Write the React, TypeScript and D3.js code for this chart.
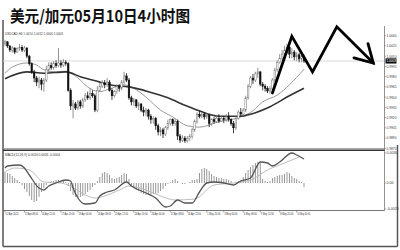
import React from "react";
import * as d3 from "d3";

const W = 400;
const H = 250;

const title = "美元/加元05月10日4小时图";
const symbolInfo = "USDCAD,H4  1.0010 1.0012 1.0000 1.0003";
const macdInfo = "MACD(12,26,9)  0.0024 0.0026 -0.0004";

// H4 bars: [open, high, low, close]
const candles: [number, number, number, number][] = [
  [1.0028, 1.0034, 1.0025, 1.0031], [1.0031, 1.0032, 1.0022, 1.0025], [1.0025, 1.0026, 1.0016, 1.0019],
  [1.0019, 1.0025, 1.0015, 1.0022], [1.0022, 1.0023, 1.0013, 1.0016], [1.0016, 1.0023, 1.0015, 1.0021],
  [1.0021, 1.0028, 1.0018, 1.0023], [1.0023, 1.0026, 1.0016, 1.0019], [1.0019, 1.0025, 1.0016, 1.0022],
  [1.0022, 1.0023, 1.0007, 1.0010], [1.0010, 1.0012, 0.9996, 0.9999], [0.9999, 1.0001, 0.9984, 0.9987],
  [0.9987, 0.9990, 0.9972, 0.9978], [0.9978, 0.9981, 0.9966, 0.9972], [0.9972, 0.9980, 0.9963, 0.9975],
  [0.9975, 0.9978, 0.9960, 0.9969], [0.9969, 0.9978, 0.9958, 0.9975], [0.9975, 0.9996, 0.9972, 0.9990],
  [0.9990, 1.0001, 0.9987, 0.9996], [0.9996, 1.0001, 0.9990, 0.9993], [0.9993, 1.0003, 0.9990, 0.9999],
  [0.9999, 1.0004, 0.9993, 0.9996], [0.9996, 1.0022, 0.9994, 1.0000], [1.0000, 1.0004, 0.9993, 0.9997],
  [0.9997, 1.0006, 0.9994, 1.0001], [1.0001, 1.0004, 0.9996, 0.9999], [0.9999, 1.0001, 0.9958, 0.9960],
  [0.9960, 0.9963, 0.9931, 0.9937], [0.9937, 0.9946, 0.9919, 0.9940], [0.9940, 0.9943, 0.9931, 0.9934],
  [0.9934, 0.9946, 0.9931, 0.9943], [0.9943, 0.9946, 0.9933, 0.9937], [0.9937, 0.9949, 0.9934, 0.9946],
  [0.9946, 0.9956, 0.9943, 0.9952], [0.9952, 0.9958, 0.9946, 0.9949], [0.9949, 0.9963, 0.9946, 0.9955],
  [0.9955, 0.9960, 0.9949, 0.9952], [0.9952, 0.9955, 0.9928, 0.9931], [0.9931, 0.9966, 0.9928, 0.9960],
  [0.9960, 0.9972, 0.9958, 0.9966], [0.9966, 0.9975, 0.9963, 0.9971], [0.9971, 0.9975, 0.9963, 0.9968],
  [0.9968, 0.9978, 0.9965, 0.9972], [0.9972, 0.9975, 0.9958, 0.9960], [0.9960, 0.9963, 0.9946, 0.9952],
  [0.9952, 0.9960, 0.9949, 0.9958], [0.9958, 0.9969, 0.9955, 0.9966], [0.9966, 0.9969, 0.9958, 0.9963],
  [0.9963, 0.9975, 0.9960, 0.9972], [0.9972, 0.9987, 0.9969, 0.9981], [0.9981, 0.9985, 0.9972, 0.9975],
  [0.9975, 0.9978, 0.9946, 0.9949], [0.9949, 0.9952, 0.9938, 0.9943], [0.9943, 0.9949, 0.9937, 0.9946],
  [0.9946, 0.9947, 0.9934, 0.9937], [0.9937, 0.9943, 0.9931, 0.9940], [0.9940, 0.9941, 0.9928, 0.9931],
  [0.9931, 0.9936, 0.9922, 0.9928], [0.9928, 0.9934, 0.9922, 0.9931], [0.9931, 0.9933, 0.9917, 0.9922],
  [0.9922, 0.9925, 0.9911, 0.9917], [0.9917, 0.9922, 0.9911, 0.9919], [0.9919, 0.9921, 0.9902, 0.9908],
  [0.9908, 0.9911, 0.9894, 0.9899], [0.9899, 0.9906, 0.9893, 0.9902], [0.9902, 0.9905, 0.9890, 0.9896],
  [0.9896, 0.9908, 0.9893, 0.9905], [0.9905, 0.9917, 0.9902, 0.9911], [0.9911, 0.9919, 0.9908, 0.9917],
  [0.9917, 0.9919, 0.9908, 0.9911], [0.9911, 0.9918, 0.9908, 0.9914], [0.9914, 0.9917, 0.9887, 0.9893],
  [0.9893, 0.9896, 0.9883, 0.9887], [0.9887, 0.9894, 0.9884, 0.9890], [0.9890, 0.9893, 0.9883, 0.9886],
  [0.9886, 0.9893, 0.9883, 0.9889], [0.9889, 0.9896, 0.9886, 0.9892], [0.9892, 0.9905, 0.9889, 0.9902],
  [0.9902, 0.9917, 0.9899, 0.9914], [0.9914, 0.9928, 0.9911, 0.9925], [0.9925, 0.9930, 0.9919, 0.9922],
  [0.9922, 0.9928, 0.9919, 0.9925], [0.9925, 0.9928, 0.9917, 0.9921], [0.9921, 0.9927, 0.9918, 0.9924],
  [0.9924, 0.9925, 0.9906, 0.9911], [0.9911, 0.9919, 0.9908, 0.9917], [0.9917, 0.9921, 0.9911, 0.9914],
  [0.9914, 0.9924, 0.9912, 0.9919], [0.9919, 0.9925, 0.9912, 0.9915], [0.9915, 0.9922, 0.9914, 0.9919],
  [0.9919, 0.9922, 0.9912, 0.9917], [0.9917, 0.9925, 0.9914, 0.9921], [0.9921, 0.9928, 0.9914, 0.9917],
  [0.9917, 0.9919, 0.9908, 0.9911], [0.9911, 0.9915, 0.9897, 0.9905], [0.9905, 0.9922, 0.9902, 0.9919],
  [0.9919, 0.9931, 0.9917, 0.9928], [0.9928, 0.9934, 0.9922, 0.9925], [0.9925, 0.9934, 0.9922, 0.9931],
  [0.9931, 0.9952, 0.9928, 0.9949], [0.9949, 0.9969, 0.9946, 0.9966], [0.9966, 0.9981, 0.9963, 0.9978],
  [0.9978, 0.9984, 0.9969, 0.9975], [0.9975, 0.9987, 0.9972, 0.9984], [0.9984, 0.9993, 0.9978, 0.9987],
  [0.9987, 0.9988, 0.9966, 0.9969], [0.9969, 0.9972, 0.9960, 0.9966], [0.9966, 0.9969, 0.9958, 0.9963],
  [0.9963, 0.9966, 0.9956, 0.9959], [0.9959, 0.9966, 0.9955, 0.9962], [0.9962, 0.9978, 0.9959, 0.9975],
  [0.9975, 0.9993, 0.9972, 0.9990], [0.9990, 1.0004, 0.9987, 1.0001], [1.0001, 1.0013, 0.9999, 1.0007],
  [1.0007, 1.0019, 1.0004, 1.0013], [1.0013, 1.0025, 1.0010, 1.0019], [1.0019, 1.0028, 1.0013, 1.0023],
  [1.0023, 1.0025, 1.0007, 1.0013], [1.0013, 1.0022, 1.0007, 1.0016], [1.0016, 1.0019, 1.0004, 1.0009],
  [1.0009, 1.0016, 1.0003, 1.0012], [1.0012, 1.0015, 1.0001, 1.0006], [1.0006, 1.0013, 1.0001, 1.0010],
  [1.0010, 1.0012, 1.0000, 1.0003],
];

// moving averages: [bar index, price]
const maSlow: [number, number][] = [
  [0, 0.9977], [9, 0.9987], [16, 0.9985], [25, 0.9987], [31, 0.998], [39, 0.9972], [43, 0.9968],
  [51, 0.9965], [59, 0.9958], [67, 0.9949], [74, 0.9938], [79, 0.9931], [88, 0.9922], [97, 0.9922],
  [101, 0.9925], [109, 0.9936], [117, 0.9952], [123, 0.9963],
];
const maFast: [number, number][] = [
  [0, 0.9985], [3, 0.9994], [9, 1.0], [13, 0.9997], [16, 0.999], [21, 0.9987], [25, 0.9988],
  [30, 0.9978], [34, 0.9965], [39, 0.9958], [43, 0.9962], [49, 0.9968], [53, 0.9963], [58, 0.995],
  [64, 0.9931], [69, 0.9921], [75, 0.9908], [80, 0.9906], [88, 0.9914], [97, 0.9921], [102, 0.993],
  [106, 0.9943], [112, 0.9953], [117, 0.9968], [123, 0.9991],
];

// MACD histogram, one value per bar
const macdHist: number[] = [
  0.0011, 0.001, 0.0009, 0.0007, 0.0005, 0.0003, 0.0001, -0.0002, -0.0006, -0.0009,
  -0.0013, -0.0017, -0.0019, -0.0018, -0.0014, -0.0009, -0.0005, -0.0002, 0.0001, 0.0002,
  0.0002, 0.0003, 0.0003, 0.0002, 0.0002, 0.0001, -0.0003, -0.0008, -0.0012, -0.0014,
  -0.0015, -0.0014, -0.0013, -0.0011, -0.0009, -0.0007, -0.0004, -0.0002, 0.0002, 0.0006,
  0.001, 0.0011, 0.001, 0.0008, 0.0005, 0.0004, 0.0005, 0.0006, 0.0008, 0.001,
  0.0009, 0.0004, -0.0002, -0.0005, -0.0007, -0.0008, -0.001, -0.0011, -0.0012, -0.0012,
  -0.0012, -0.0011, -0.0011, -0.001, -0.0008, -0.0006, -0.0003, -0.0001, 0.0001, 0.0003,
  0.0004, 0.0002, 0.0, -0.0001, -0.0001, 0.0, 0.0001, 0.0003, 0.0003, 0.0004,
  0.001, 0.0014, 0.0015, 0.0014, 0.0012, 0.0009, 0.0007, 0.0006, 0.0005, 0.0005,
  0.0004, 0.0004, 0.0003, 0.0002, 0.0, 0.0001, 0.0002, 0.0003, 0.0006, 0.001,
  0.0013, 0.0016, 0.0018, 0.002, 0.0021, 0.002, 0.0004, 0.0002, 0.0001, 0.0002,
  0.0005, 0.0006, 0.0007, 0.0008, 0.0008, 0.0009, 0.0011, 0.001, 0.0007, 0.0005,
  0.0004, 0.0002, 0.0001, -0.0004,
];
const macdMain: [number, number][] = [
  [0, 0.0015], [1, 0.0017], [6, 0.0018], [8, 0.0015], [10, 0.0008], [14, -0.0005], [16, -0.0007],
  [18, -0.0003], [21, 0.0], [25, 0.0003], [27, 0.0002], [28, -0.0005], [30, -0.0015], [33, -0.0021],
  [37, -0.002], [39, -0.0013], [42, -0.0009], [45, -0.0007], [50, 0.0001], [52, -0.0003], [58, -0.001],
  [62, -0.0015], [66, -0.0024], [68, -0.0023], [71, -0.0017], [74, -0.002], [77, -0.002], [80, -0.0009],
  [83, 0.0], [86, 0.0001], [90, 0.0], [94, -0.0002], [97, 0.0002], [101, 0.0005], [105, 0.0021],
  [108, 0.002], [110, 0.0017], [113, 0.0021], [118, 0.003], [120, 0.0028], [123, 0.0024],
];
const macdSignal: [number, number][] = [
  [0, 0.0011], [4, 0.0015], [10, 0.0013], [16, 0.0001], [23, 0.0], [29, -0.0006], [33, -0.0012],
  [37, -0.0015], [41, -0.0013], [47, -0.0007], [51, -0.0003], [58, -0.0007], [64, -0.0013],
  [70, -0.0017], [78, -0.0016], [86, -0.0002], [94, 0.0], [101, 0.0003], [108, 0.0013],
  [116, 0.0021], [121, 0.0026],
];

const priceTicks = [1.004, 1.0025, 1.001, 0.9995, 0.998, 0.9965, 0.995, 0.9935, 0.992, 0.9905, 0.989, 0.9875];
const macdTicks = [0.003, 0, -0.0026];
const macdTickLabels = ["0.0030", "0.00", "-0.0026"];

const timeLabels: [number, string][] = [
  [0, "12 Apr 2012"], [8, "13 Apr 08:00"], [15, "16 Apr 12:00"], [23, "17 Apr 20:00"],
  [30, "19 Apr 00:00"], [38, "20 Apr 08:00"], [45, "23 Apr 12:00"], [53, "24 Apr 20:00"],
  [60, "26 Apr 00:00"], [68, "27 Apr 08:00"], [75, "30 Apr 12:00"], [83, "1 May 20:00"],
  [90, "3 May 00:00"], [98, "4 May 08:00"], [105, "7 May 12:00"], [113, "8 May 20:00"],
  [120, "10 May 00:00"],
];

// hand-drawn outlook path: [bar index, price]
const outlook: [number, number][] = [
  [110, 0.9956], [118, 1.0039], [126.5, 0.9987], [136.5, 1.0053], [151.5, 1.0],
];

const small = { fontFamily: "'Liberation Sans', Arial, sans-serif", fontSize: 4 };

export default function App() {
  const x = d3.scaleLinear().domain([0, candles.length - 1]).range([5, 304]);
  const y = d3.scaleLinear().domain([0.9875, 1.004]).range([148.3, 35.7]);
  const ym = d3.scaleLinear().domain([-0.00275, 0.00325]).range([210.5, 150.5]);

  const priceLine = d3
    .line<[number, number]>()
    .x((d) => x(d[0]))
    .y((d) => y(d[1]))
    .curve(d3.curveMonotoneX);
  const macdLine = d3
    .line<[number, number]>()
    .x((d) => x(d[0]))
    .y((d) => ym(d[1]))
    .curve(d3.curveMonotoneX);
  const outlookLine = d3
    .line<[number, number]>()
    .x((d) => x(d[0]))
    .y((d) => y(d[1]));

  const last = candles[candles.length - 1][3];
  const axisX = 384.5;

  // arrow head on the last outlook segment
  const [p1, p2] = outlook.slice(-2);
  const tx = x(p2[0]);
  const ty = y(p2[1]);
  const ang = Math.atan2(ty - y(p1[1]), tx - x(p1[0]));
  const headLen = 20;
  const spread = (30 * Math.PI) / 180;
  const h1: [number, number] = [tx - headLen * Math.cos(ang - spread), ty - headLen * Math.sin(ang - spread)];
  const h2: [number, number] = [tx - headLen * Math.cos(ang + spread), ty - headLen * Math.sin(ang + spread)];

  const bodyW = 1.6;

  return (
    <svg
      width={W}
      height={H}
      viewBox={`0 0 ${W} ${H}`}
      style={{ position: "fixed", left: 0, top: 0, background: "#fff" }}
    >
      <rect x={0} y={0} width={W} height={H} fill="#fff" />

      {/* title */}
      <text
        x={10}
        y={21.5}
        fontFamily="'Noto Sans CJK SC', sans-serif"
        fontWeight="bold"
        fontSize={16}
        textLength={180}
        lengthAdjust="spacingAndGlyphs"
        fill="#111"
      >
        {title}
      </text>

      {/* frame */}
      <g stroke="#555" strokeWidth={1.5} fill="none">
        <line x1={3} y1={20} x2={3} y2={246.5} />
        <line x1={3} y1={246.5} x2={397.5} y2={246.5} />
        <line x1={397.5} y1={145} x2={397.5} y2={246.5} />
      </g>

      {/* main panel */}
      <text x={5} y={34.5} {...small} fontSize={3.6} textLength={58} lengthAdjust="spacingAndGlyphs" fill="#333">
        {symbolInfo}
      </text>
      <line x1={3} x2={axisX} y1={y(last)} y2={y(last)} stroke="#d0d0d0" strokeWidth={0.8} />

      <path d={priceLine(maFast) ?? ""} fill="none" stroke="#9a9a9a" strokeWidth={1} />
      <path d={priceLine(maSlow) ?? ""} fill="none" stroke="#333" strokeWidth={1.6} />

      {candles.map(([o, h, l, c], i) => {
        const bull = c >= o;
        const cx = x(i);
        const top = y(Math.max(o, c));
        const bot = y(Math.min(o, c));
        return (
          <g key={i}>
            <line x1={cx} x2={cx} y1={y(h)} y2={y(l)} stroke={bull ? "#777" : "#111"} strokeWidth={0.8} />
            <rect
              x={cx - bodyW / 2}
              y={top}
              width={bodyW}
              height={Math.max(0.8, bot - top)}
              fill={bull ? "#fff" : "#111"}
              stroke={bull ? "#777" : "#111"}
              strokeWidth={0.5}
            />
          </g>
        );
      })}

      {/* price scale */}
      <line x1={axisX} x2={axisX} y1={26} y2={210.5} stroke="#777" strokeWidth={0.8} />
      {priceTicks.map((t) => (
        <g key={t}>
          <line x1={axisX} x2={axisX + 1.5} y1={y(t)} y2={y(t)} stroke="#777" strokeWidth={0.6} />
          <text x={386.5} y={y(t) + 1.4} {...small} textLength={10} lengthAdjust="spacingAndGlyphs" fill="#333">
            {t.toFixed(4)}
          </text>
        </g>
      ))}
      <rect x={385.5} y={y(last) - 2.6} width={11} height={5.2} fill="#111" />
      <text x={386.5} y={y(last) + 1.4} {...small} textLength={9.5} lengthAdjust="spacingAndGlyphs" fill="#fff">
        {last.toFixed(4)}
      </text>

      {/* panel separator */}
      <line x1={3} x2={axisX} y1={148.6} y2={148.6} stroke="#888" strokeWidth={0.8} />
      <line x1={3} x2={axisX} y1={150.2} y2={150.2} stroke="#333" strokeWidth={1.4} />

      {/* MACD panel */}
      <text x={5} y={155.5} {...small} fontSize={3.4} textLength={55} lengthAdjust="spacingAndGlyphs" fill="#333">
        {macdInfo}
      </text>
      {macdHist.map((v, i) => (
        <rect
          key={i}
          x={x(i) - 0.45}
          y={Math.min(ym(v), ym(0))}
          width={0.9}
          height={Math.abs(ym(v) - ym(0))}
          fill="#8c8c8c"
        />
      ))}
      <path d={macdLine(macdSignal) ?? ""} fill="none" stroke="#bdbdbd" strokeWidth={1} />
      <path d={macdLine(macdMain) ?? ""} fill="none" stroke="#555" strokeWidth={1.3} />
      {macdTicks.map((t, i) => (
        <g key={t}>
          <line x1={axisX} x2={axisX + 1.5} y1={ym(t)} y2={ym(t)} stroke="#777" strokeWidth={0.6} />
          <text x={386.5} y={ym(t) + 1.3} {...small} fontSize={3.6} fill="#333">
            {macdTickLabels[i]}
          </text>
        </g>
      ))}

      {/* time scale */}
      <line x1={3} x2={axisX} y1={210.5} y2={210.5} stroke="#666" strokeWidth={0.9} />
      {timeLabels.map(([i, label]) => (
        <g key={label}>
          <line x1={x(i)} x2={x(i)} y1={210.5} y2={212.5} stroke="#666" strokeWidth={0.6} />
          <text x={x(i) + 0.6} y={215.2} {...small} fontSize={3.2} textLength={13} lengthAdjust="spacingAndGlyphs" fill="#333">
            {label}
          </text>
        </g>
      ))}

      {/* outlook zigzag with arrow */}
      <path
        d={outlookLine(outlook) ?? ""}
        fill="none"
        stroke="#000"
        strokeWidth={2.8}
        strokeLinejoin="miter"
        strokeLinecap="round"
      />
      <path
        d={`M${h1[0]},${h1[1]}L${tx},${ty}L${h2[0]},${h2[1]}`}
        fill="none"
        stroke="#000"
        strokeWidth={2.8}
        strokeLinejoin="miter"
        strokeLinecap="round"
      />
    </svg>
  );
}
